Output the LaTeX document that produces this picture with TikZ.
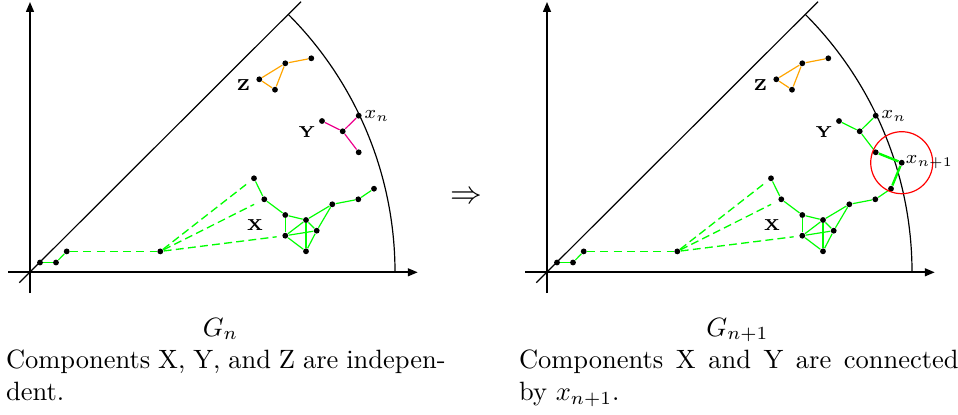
\documentclass[tikz,border=0pt]{standalone}
\usetikzlibrary{arrows.meta}
\definecolor{zorange}{RGB}{255,165,0}
\tikzset{
  dot/.style={circle,fill=black,inner sep=0pt,minimum size=2.2pt},
  axisline/.style={line width=0.9pt,-{Triangle[length=3.8pt,width=2.8pt]}},
  thinblack/.style={line width=0.45pt},
  zedge/.style={draw=zorange,line width=0.45pt},
  xedge/.style={draw=green,line width=0.45pt},
  xdashed/.style={draw=green,line width=0.5pt,dash pattern=on 3pt off 1.6pt},
  hdashed/.style={draw=green,line width=0.65pt,dash pattern=on 3pt off 2pt},
  yedgeL/.style={draw=magenta,line width=0.45pt},
  yedgeR/.style={draw=green,line width=0.45pt},
  newedge/.style={draw=green,line width=0.9pt},
  complbl/.style={font=\fontsize{6}{7}\selectfont\bfseries,inner sep=0pt},
  ptlbl/.style={font=\fontsize{6.8}{8}\selectfont,inner sep=0pt},
  capt/.style={text width=166pt,align=justify,inner sep=0pt,font=\fontsize{10}{12}\selectfont},
  glbl/.style={inner sep=0pt,font=\fontsize{10}{12}\selectfont}
}
\newcommand\basepanel[1]{%
  \coordinate (O) at (30,272.3);
  \coordinate (xs) at (8.3,272.3);
  \coordinate (xe) at (418,272.3);
  \coordinate (ys) at (30,293);
  \coordinate (ye) at (30,1.7);
  \coordinate (ds) at (19.3,282.7);
  \coordinate (de) at (301,1.7);
  \coordinate (as) at (395,272.3);
  \draw[axisline] (xs) -- (xe);
  \draw[axisline] (ys) -- (ye);
  \draw[thinblack] (ds) -- (de);
  \draw[thinblack] (as) arc[start angle=0,end angle=-45,radius=365];
  % Z
  \node[dot] (z1) at (259.3,79.3) {};
  \node[dot] (z2) at (285.3,63.3) {};
  \node[dot] (z3) at (311.3,58.3) {};
  \node[dot] (z4) at (275,89.7) {};
  \draw[zedge] (z1) -- (z2);
  \draw[zedge] (z2) -- (z3);
  \draw[zedge] (z1) -- (z4);
  \draw[zedge] (z4) -- (z2);
  \node[complbl] (Zl) at (243.3,85) {Z};
  % Y
  \node[dot] (y1) at (322,121) {};
  \node[dot] (y2) at (342.7,131.3) {};
  \node[dot] (xn) at (358.7,115.7) {};
  \node[dot] (y4) at (358.7,152.3) {};
  \draw[#1] (y1) -- (y2);
  \draw[#1] (y2) -- (xn);
  \draw[#1] (y2) -- (y4);
  \node[complbl] (Yl) at (306.7,131.7) {Y};
  \node[ptlbl] (xnl) at (376.8,116) {$x_n$};
  % X
  \node[dot] (a1) at (40,262.5) {};
  \node[dot] (a2) at (56,262.5) {};
  \node[dot] (a3) at (66.7,251.4) {};
  \node[dot] (a4) at (160.3,251.4) {};
  \node[dot] (b1) at (254,178.3) {};
  \node[dot] (b2) at (264.3,199.3) {};
  \node[dot] (b3) at (285.3,215) {};
  \node[dot] (b4) at (306,220) {};
  \node[dot] (b5) at (316.7,230.7) {};
  \node[dot] (b6) at (285.3,235.7) {};
  \node[dot] (b7) at (306,251.3) {};
  \node[dot] (c1) at (332.3,204.3) {};
  \node[dot] (c2) at (358.3,199.3) {};
  \node[dot] (c3) at (374,188.7) {};
  \draw[xedge] (a1) -- (a2);
  \draw[xedge] (a2) -- (a3);
  \draw[hdashed] (a3) -- (a4);
  \draw[xdashed,shorten >=1pt] (a4) -- (b1);
  \draw[xdashed,shorten >=3pt] (a4) -- (b2);
  \draw[xdashed,shorten >=2pt] (a4) -- (b6);
  \draw[xedge] (b1) -- (b2);
  \draw[xedge] (b2) -- (b3);
  \draw[xedge] (b3) -- (b4);
  \draw[xedge] (b3) -- (b6);
  \draw[xedge] (b4) -- (b7);
  \draw[xedge] (b6) -- (b4);
  \draw[xedge] (b6) -- (b5);
  \draw[xedge] (b6) -- (b7);
  \draw[xedge] (b4) -- (b5);
  \draw[xedge] (b5) -- (b7);
  \draw[xedge] (b4) -- (c1);
  \draw[xedge] (b5) -- (c1);
  \draw[xedge] (c1) -- (c2);
  \draw[xedge] (c2) -- (c3);
  \node[complbl] (Xl) at (255,225) {X};
}
\begin{document}
\begin{tikzpicture}[x=0.3776pt,y=-0.3776pt]
  \useasboundingbox (0,0) rectangle (958,414);
  \begin{scope}[name prefix=L-]
    \basepanel{yedgeL}
  \end{scope}
  \begin{scope}[name prefix=R-,shift={(517,0)}]
    \basepanel{yedgeR}
    \node[dot] (xn1) at (384.7,162.7) {};
    \draw[newedge] (y4) -- (xn1);
    \draw[newedge] (xn1) -- (c3);
    \draw[red,line width=0.45pt] (xn1) circle[radius=31];
    \node[ptlbl,anchor=west] (xn1l) at (388,162) {$x_{n+1}$};
  \end{scope}
  \node[font=\fontsize{12.5}{14}\selectfont,inner sep=0pt] (impl) at (466,198) {$\Rightarrow$};
  \node[glbl,anchor=base] (gL) at (220.5,336) {$G_n$};
  \node[glbl,anchor=base] (gR) at (737.5,336) {$G_{n+1}$};
  \node[capt,anchor=base west] (capL) at (5.5,368.3) {Components X, Y, and Z are independent.};
  \node[capt,anchor=base west] (capR) at (518.5,368.3) {Components X and Y are connected by $x_{n+1}$.};
\end{tikzpicture}
\end{document}
